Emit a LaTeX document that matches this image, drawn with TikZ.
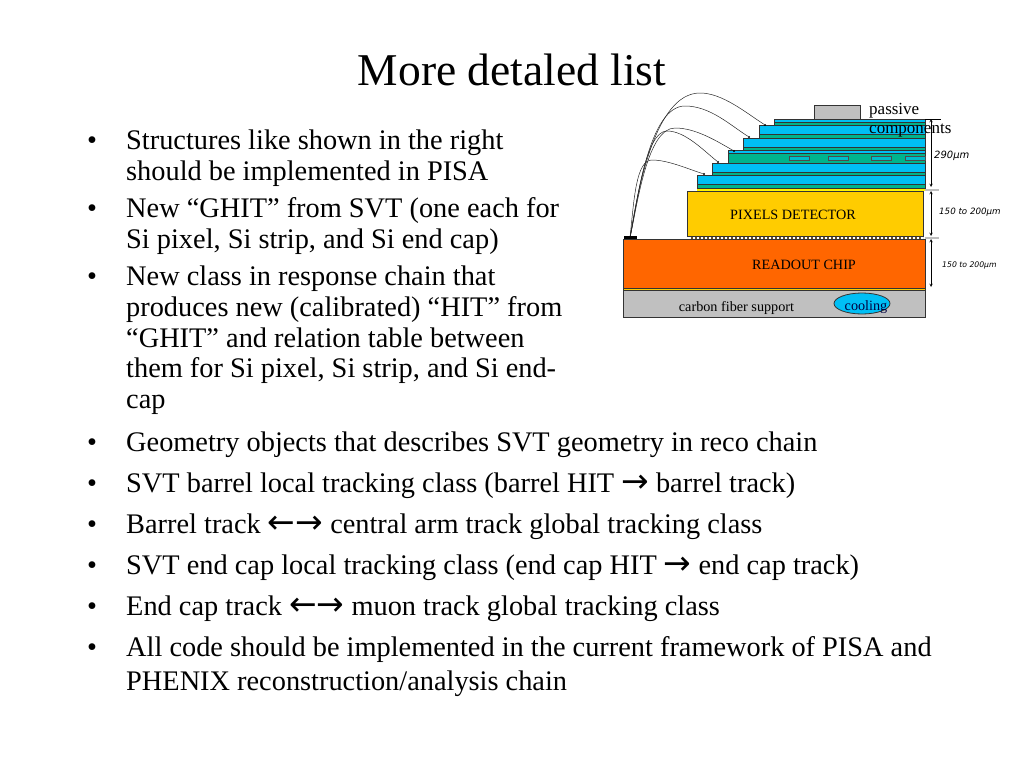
\documentclass[tikz,border=0pt]{standalone}
\usepackage{fontspec}
\usetikzlibrary{shapes.geometric}
\setmainfont{Liberation Serif}
\newfontfamily\smallfont[ItalicFont={DejaVu Sans Oblique}]{DejaVu Sans}
\newfontfamily\arrowfont{DejaVu Sans}
\definecolor{layerblue}{HTML}{00BFF5}
\definecolor{layergreen}{HTML}{00B48C}
\definecolor{pixgold}{HTML}{FFCC00}
\definecolor{chiporange}{HTML}{FF6600}
\definecolor{supportgray}{HTML}{C0C0C0}
\definecolor{dimgray}{HTML}{BDBDBD}
\definecolor{bumpbrown}{HTML}{6B5020}
\newcommand{\ra}{{\fontsize{33}{30}\arrowfont\char"2192}}
\newcommand{\la}{{\fontsize{33}{30}\arrowfont\char"2190}}
\newcommand{\umu}{{\smallfont\itshape\char"03BC}}
\tikzset{
  bodytext/.style={anchor=base west,inner sep=0pt,font=\fontsize{28.35}{30}\selectfont},
  bullettext/.style={anchor=base west,inner sep=0pt,font=\fontsize{28.35}{30}\selectfont},
  labeltext/.style={inner sep=0pt,font=\fontsize{14.2}{16}\selectfont},
  dimtext/.style={inner sep=0pt,font=\fontsize{8.7}{10}\smallfont\itshape},
  layer/.style={draw=black!80,line width=0.6pt},
  wire/.style={draw=black!85,line width=0.5pt},
  tip/.style={circle,fill=black,inner sep=0pt,minimum size=2.4pt},
  dimline/.style={<->,>=stealth,line width=0.5pt},
  dimtick/.style={draw=dimgray,line width=2pt},
}
\begin{document}
\begin{tikzpicture}[x=1pt,y=-1pt]
    \useasboundingbox (0,0) rectangle (1024,768);
    \node[inner sep=0pt,anchor=base,font=\fontsize{45.5}{48}\selectfont] (title) at (512,85) {More detaled list};
    %% Bullet list
    \foreach \ypos/\txt in {149/Structures like shown in the right,
        180/should be implemented in PISA,
        217/New “GHIT” from SVT (one each for,
        248/{Si pixel, Si strip, and Si end cap)},
        285/New class in response chain that,
        316/produces new (calibrated) “HIT” from,
        347/“GHIT” and relation table between,
        377/{them for Si pixel, Si strip, and Si end-},
        408/cap,
        451/Geometry objects that describes SVT geometry in reco chain,
        492/SVT barrel local tracking class (barrel HIT \ra{} barrel track),
        533/Barrel track \la\ra{} central arm track global tracking class,
        574/SVT end cap local tracking class (end cap HIT \ra{} end cap track),
        615/End cap track \la\ra{} muon track global tracking class,
        656/All code should be implemented in the current framework of PISA and,
        690/{PHENIX reconstruction/analysis chain}}
      \node[bodytext] at (126,\ypos) {\txt};
    \foreach \ypos in {149,217,285,451,492,533,574,615,656}
      \node[bullettext] at (87,\ypos) {•};
    %% Readout chip and support
    \filldraw[layer,fill=supportgray] (623,290) rectangle (925.5,317.5);
    \filldraw[layer,fill=chiporange] (623,239) rectangle (925.5,288);
    \filldraw[layer,fill=pixgold] (623,288) rectangle (925.5,290);
    %% Bumps
    \draw[bumpbrown,line width=3pt,dash pattern=on 2pt off 2pt] (691,237.5) -- (923,237.5);
    %% Pixels detector
    \filldraw[layer,fill=pixgold] (687.5,191) rectangle (923,236);
    \filldraw[layer,fill=yellow,draw=none] (697,188) rectangle (925,191);
    %% Stack of layers
    \filldraw[layer,fill=layergreen] (697,184) rectangle (925,188);
    \filldraw[layer,fill=layerblue] (697,175) rectangle (925,184);
    \filldraw[layer,fill=layergreen] (712,172) rectangle (925,175);
    \filldraw[layer,fill=layerblue] (712,163) rectangle (925,172);
    \filldraw[layer,fill=layergreen] (728,153) rectangle (925,163);
    \filldraw[layer,fill=layerblue] (728,150) rectangle (925,153);
    \filldraw[layer,fill=layergreen] (743.5,147) rectangle (925,150);
    \filldraw[layer,fill=layerblue] (743.5,138) rectangle (925,147);
    \filldraw[layer,fill=layergreen] (759,134) rectangle (925,138);
    \filldraw[layer,fill=layerblue] (759,125) rectangle (925,134);
    \filldraw[layer,fill=layergreen] (774,122) rectangle (925,125);
    \filldraw[layer,fill=layerblue] (774,119) rectangle (925,122);
    %% Slots in the green layer
    \foreach \xa/\xb in {789/809,828/848,871/891,905/925}
      \filldraw[line width=0.5pt,draw=black!70,fill=layerblue!60!layergreen] (\xa,156) rectangle (\xb,160);
    %% Passive components
    \filldraw[layer,fill=supportgray] (814,105.5) rectangle (860,119);
    %% Wires
    \node[fill=black,inner sep=0pt,minimum width=13pt,minimum height=3pt] (pad) at (630,237.5) {};
    \node[tip] (tipA) at (765,125) {};
    \node[tip] (tipB) at (749,137) {};
    \node[tip] (tipC) at (734,151) {};
    \node[tip] (tipD) at (718,162) {};
    \node[tip] (tipE) at (704,174) {};
    \draw[wire] (pad) .. controls (638,190) and (655,93) .. (700,93) .. controls (722,93) and (745,112) .. (tipA);
    \draw[wire] (pad) .. controls (638,195) and (650,106) .. (685,106) .. controls (710,106) and (730,125) .. (tipB);
    \draw[wire] (pad) .. controls (638,200) and (648,128) .. (675,128) .. controls (695,128) and (715,140) .. (tipC);
    \draw[wire] (pad) .. controls (637,205) and (645,131) .. (667,131) .. controls (685,131) and (703,150) .. (tipD);
    \draw[wire] (pad) .. controls (634,200) and (636,160) .. (652,160) .. controls (668,160) and (688,169) .. (tipE);
    %% Labels
    \node[labeltext] (pixlabel) at (793,215) {PIXELS DETECTOR};
    \node[labeltext] (chiplabel) at (804,264.5) {READOUT CHIP};
    \node[labeltext] (supportlabel) at (736.5,308) {carbon fiber support};
    \node[draw=black!80,fill=layerblue,ellipse,minimum width=56pt,minimum height=21pt,inner sep=0pt,line width=0.8pt] (cooling) at (862,303.5) {};
    \node[labeltext,text=black!75!blue] (coolinglabel) at (866,307) {cooling};
    \node[labeltext,anchor=base west,font=\fontsize{17}{19}\selectfont] (passive) at (869,114) {passive};
    \node[labeltext,anchor=base west,font=\fontsize{17}{19}\selectfont] (components) at (869,133) {components};
    %% Dimensions
    \coordinate (dimA) at (931,119);
    \coordinate (dimB) at (931,187);
    \coordinate (dimC) at (931,191);
    \coordinate (dimD) at (931,236);
    \coordinate (dimE) at (931,239);
    \coordinate (dimF) at (931,287);
    \draw[dimline] (dimA) -- (dimB);
    \draw[dimtick] (925,189.5) -- (939,189.5);
    \draw[dimtick] (925,237.5) -- (939,237.5);
    \draw[dimline] (dimC) -- (dimD);
    \draw[dimline] (dimE) -- (dimF);
    \draw[black,line width=0.5pt] (925,119) -- (941,119);
    \node[dimtext,anchor=west,font=\fontsize{10}{11}\smallfont\itshape] (thickA) at (934,156) {290\umu m};
    \node[dimtext,anchor=west] (thickB) at (939,212) {150 to 200\umu m};
    \node[dimtext,anchor=west,font=\fontsize{7.7}{9}\smallfont\itshape] (thickC) at (942,265) {150 to 200\umu m};
\end{tikzpicture}
\end{document}
